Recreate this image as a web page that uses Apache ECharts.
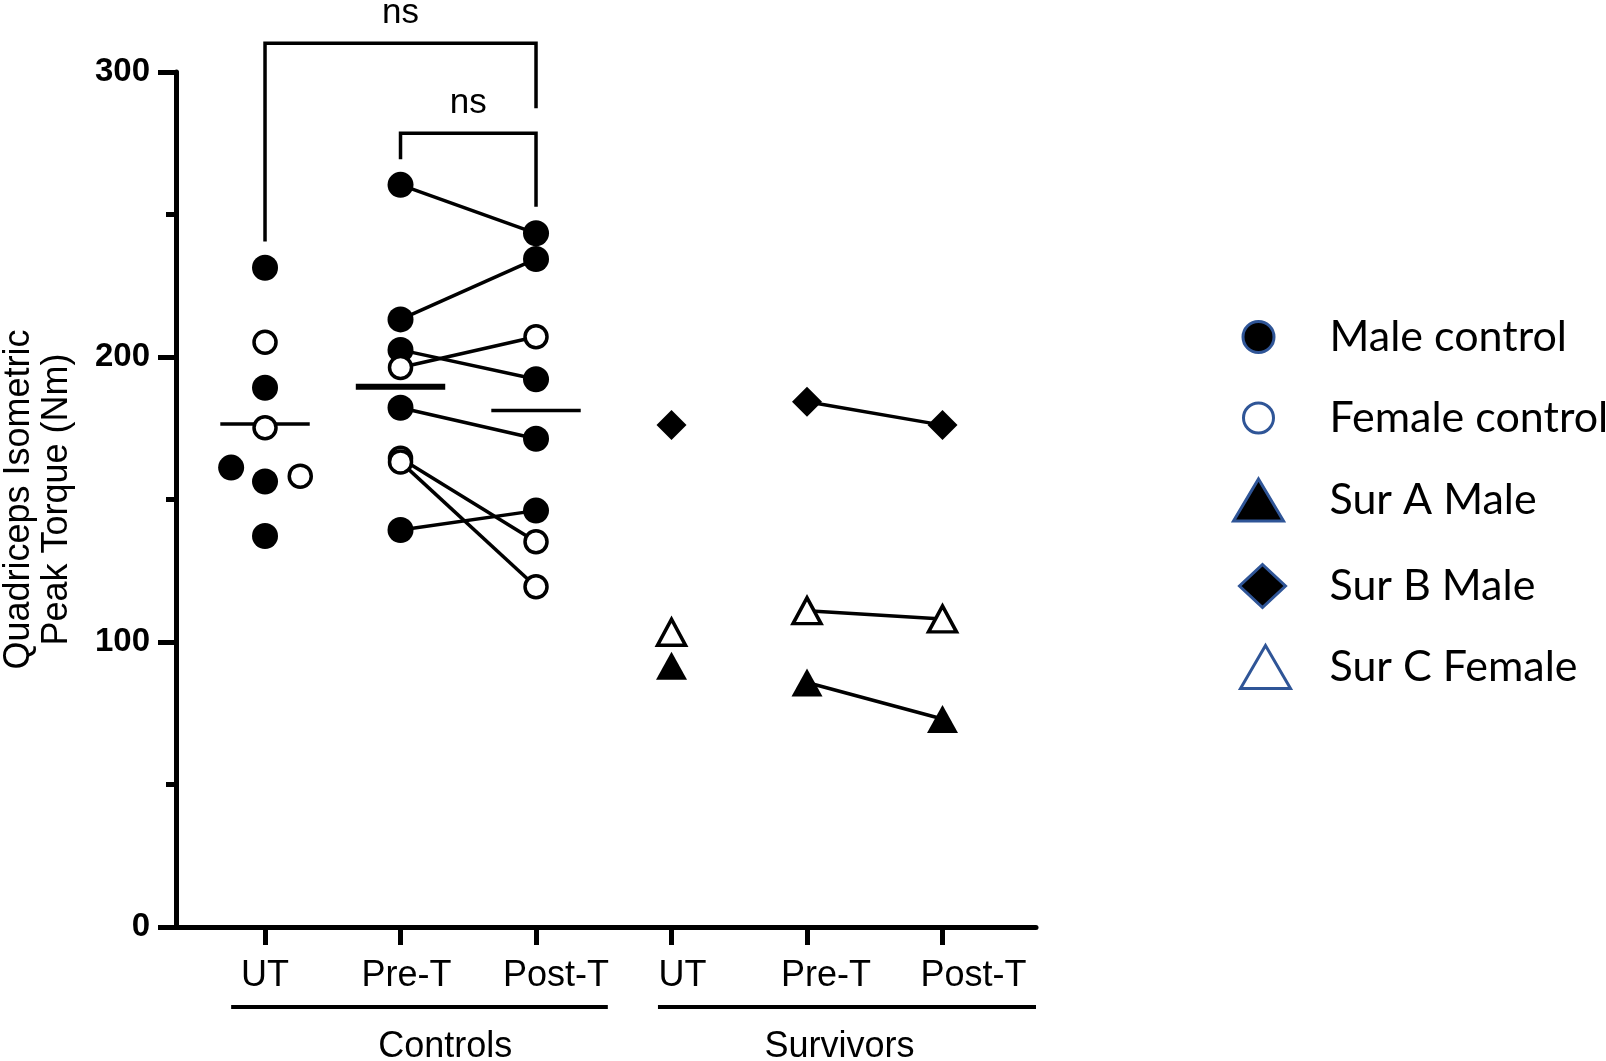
<!DOCTYPE html>
<html>
<head>
<meta charset="utf-8">
<script src="https://cdn.jsdelivr.net/npm/echarts@6/dist/echarts.min.js"></script>
<style>
html,body{margin:0;padding:0;background:#fff;}
#chart{width:1606px;height:1061px;}
</style>
</head>
<body>
<div id="chart"></div>
<script>
// ---------- data ----------
const categories = ['UT', 'Pre-T', 'Post-T', 'UT', 'Pre-T', 'Post-T'];
const groupNames = ['Controls', 'Survivors'];
const yTickLabels = [0, 100, 200, 300];

const maleUT = [231.3, 189.2, 161.2, 156.3, 137.2];
const maleUTJitter = [0, 0, -0.25, 0, 0];
const femaleUT = [205.2, 175.2, 158.2];
const femaleUTJitter = [0, 0, 0.26];

const malePre = [260.4, 213.2, 202.5, 182.2, 139.3];
const malePost = [243.4, 234.4, 192.2, 171.3, 146.1];
const femalePre = [196.3, 164.5, 163.2];
const femalePost = [207.1, 135.2, 119.4];

const controlMeans = [176.5, 189.6, 181.2];

const surA = [91.7, 85.8, 73.0];   // Sur A Male: UT, Pre-T, Post-T
const surB = [176.1, 184.3, 176.1]; // Sur B Male
const surC = [103.4, 111.0, 108.1]; // Sur C Female

// significance brackets
const bracketFrom = [0, 1];
const bracketTo = [2, 2];
const bracketLeftEnd = [240.5, 269.4];
const bracketBar = [310.1, 278.5];
const bracketRightEnd = [287.3, 252.7];
const bracketLabelAt = [320.7, 289.1];
const bracketText = ['ns', 'ns'];

// ---------- layout / style ----------
const BLUE = '#2F5597';
const AXIS_FONT = '"Liberation Sans", Arial, sans-serif';
const LEG_FONT = 'Lato, Calibri, sans-serif';
const catPos = categories.map((_, i) => i);
// category labels sit slightly right of their ticks in the original figure
const labelShift = [0, 0.044, 0.148, 0.081, 0.14, 0.229];
const labelPos = catPos.map((p, i) => p + labelShift[i]);
const LINE_W = 3.5;

const series = [];

// connecting lines (controls)
malePre.forEach((v, i) => series.push({
  type: 'line', silent: true, z: 2, symbol: 'none',
  data: [[1, v], [2, malePost[i]]],
  lineStyle: { color: '#000', width: LINE_W }
}));
femalePre.forEach((v, i) => series.push({
  type: 'line', silent: true, z: 2, symbol: 'none',
  data: [[1, v], [2, femalePost[i]]],
  lineStyle: { color: '#000', width: LINE_W }
}));
// connecting lines (survivors)
[surA, surB, surC].forEach(arr => series.push({
  type: 'line', silent: true, z: 2, symbol: 'none',
  data: [[4, arr[1]], [5, arr[2]]],
  lineStyle: { color: '#000', width: LINE_W }
}));
// mean lines
controlMeans.forEach((m, i) => series.push({
  type: 'line', silent: true, z: 2, symbol: 'none',
  data: [[i - 0.33, m], [i + 0.33, m]],
  lineStyle: { color: '#000', width: i === 1 ? 6 : 3.5 }
}));

// points
series.push({
  name: 'Male control', type: 'scatter', z: 5, symbol: 'circle', symbolSize: 26,
  itemStyle: { color: '#000', opacity: 1 },
  data: maleUT.map((v, i) => [0 + maleUTJitter[i], v])
    .concat(malePre.map(v => [1, v]))
    .concat(malePost.map(v => [2, v]))
});
series.push({
  name: 'Female control', type: 'scatter', z: 6, symbol: 'circle', symbolSize: 22,
  itemStyle: { color: '#fff', borderColor: '#000', borderWidth: 3.5, opacity: 1 },
  data: femaleUT.map((v, i) => [0 + femaleUTJitter[i], v])
    .concat(femalePre.map(v => [1, v]))
    .concat(femalePost.map(v => [2, v]))
});
series.push({
  name: 'Sur A Male', type: 'scatter', z: 5, symbol: 'triangle', symbolSize: [31, 28],
  itemStyle: { color: '#000', opacity: 1 },
  data: surA.map((v, i) => [3 + i, v])
});
series.push({
  name: 'Sur B Male', type: 'scatter', z: 5, symbol: 'diamond', symbolSize: [30, 30],
  itemStyle: { color: '#000', opacity: 1 },
  data: surB.map((v, i) => [3 + i, v])
});
series.push({
  name: 'Sur C Female', type: 'scatter', z: 5, symbol: 'triangle', symbolSize: [28, 26],
  itemStyle: { color: '#fff', borderColor: '#000', borderWidth: 3.5, opacity: 1 },
  data: surC.map((v, i) => [3 + i, v])
});

// brackets
bracketFrom.forEach((f, i) => {
  const t = bracketTo[i];
  series.push({
    type: 'line', silent: true, z: 3, symbol: 'none', clip: false,
    data: [[f, bracketLeftEnd[i]], [f, bracketBar[i]], [t, bracketBar[i]], [t, bracketRightEnd[i]]],
    lineStyle: { color: '#000', width: LINE_W, join: 'miter', cap: 'butt' }
  });
});

// legends
const legendSpec = [
  { name: 'Male control', icon: 'circle', w: 31, h: 31, cx: 1257, cy: 337, fill: '#000' },
  { name: 'Female control', icon: 'circle', w: 30, h: 30, cx: 1257, cy: 418, fill: '#fff' },
  { name: 'Sur A Male', icon: 'triangle', w: 50, h: 42, cx: 1257, cy: 500, fill: '#000' },
  { name: 'Sur B Male', icon: 'diamond', w: 46, h: 43, cx: 1261, cy: 586, fill: '#000' },
  { name: 'Sur C Female', icon: 'triangle', w: 50, h: 43, cx: 1264, cy: 667, fill: '#fff' }
];
const LH = 52;
const TEXT_X = 1328;
const legends = legendSpec.map(s => ({
  show: true, selectedMode: false, orient: 'vertical', padding: 0,
  left: s.cx - s.w / 2, top: s.cy - Math.max(s.h, LH) / 2,
  itemWidth: s.w, itemHeight: s.h,
  data: [{ name: s.name, icon: s.icon,
           itemStyle: { color: s.fill, borderColor: BLUE, borderWidth: 3, opacity: 1 } }],
  textStyle: { fontFamily: LEG_FONT, fontSize: 43, color: '#000', lineHeight: LH,
               padding: [0, 0, 0, TEXT_X - (s.cx + s.w / 2) - 5] }
}));

const option = {
  backgroundColor: '#fff',
  animation: false,
  grid: { left: 176, right: 570, top: 72, bottom: 134, containLabel: false, outerBoundsMode: 'none' },
  xAxis: {
    type: 'value', min: -0.657, max: 5.69,
    axisLine: { show: true, onZero: false, lineStyle: { color: '#000', width: 5 } },
    axisTick: { show: true, customValues: catPos, length: 18, lineStyle: { color: '#000', width: 5 } },
    axisLabel: {
      show: true, customValues: labelPos, formatter: v => categories[Math.round(v)],
      margin: 31, fontFamily: AXIS_FONT, fontSize: 36, color: '#000'
    },
    splitLine: { show: false }
  },
  yAxis: {
    type: 'value', min: 0, max: 300, interval: 100,
    axisLine: { show: true, onZero: false, lineStyle: { color: '#000', width: 5 } },
    axisTick: { show: true, length: 18, lineStyle: { color: '#000', width: 5 } },
    minorTick: { show: true, splitNumber: 2, length: 10, lineStyle: { color: '#000', width: 5 } },
    splitLine: { show: false }, minorSplitLine: { show: false },
    axisLabel: {
      margin: 26, fontFamily: AXIS_FONT, fontSize: 33, fontWeight: 'bold', color: '#000',
      formatter: v => (yTickLabels.indexOf(v) >= 0 ? String(v) : '')
    },
    name: 'Quadriceps Isometric\nPeak Torque (Nm)',
    nameLocation: 'middle', nameRotate: 90, nameGap: 100,
    nameTextStyle: { fontFamily: AXIS_FONT, fontSize: 36, lineHeight: 38, color: '#000' }
  },
  legend: legends,
  series: series
};

const chart = echarts.init(document.getElementById('chart'), null, { renderer: 'canvas' });
chart.setOption(option);

const toPx = (x, y) => chart.convertToPixel({ gridIndex: 0 }, [x, y]);
const graphics = [];

// "ns" labels above the brackets
bracketFrom.forEach((f, i) => {
  const p = toPx((f + bracketTo[i]) / 2, bracketLabelAt[i]);
  graphics.push({
    type: 'text', x: p[0], y: p[1], z: 10,
    style: { text: bracketText[i], fontFamily: AXIS_FONT, fontSize: 35, fill: '#000',
             align: 'center', verticalAlign: 'middle' }
  });
});

// group lines & labels under the x axis, positioned through the axis scale
const groupStart = [-0.25, 2.9];
const groupEnd = [2.53, 5.69];
const groupLabelAt = [1.33, 4.24];
const axisY = toPx(0, 0)[1];
groupNames.forEach((g, i) => {
  const x1 = toPx(groupStart[i], 0)[0];
  const x2 = toPx(groupEnd[i], 0)[0];
  const xl = toPx(groupLabelAt[i], 0)[0];
  graphics.push({
    type: 'line', shape: { x1: x1, y1: axisY + 80, x2: x2, y2: axisY + 80 },
    style: { stroke: '#000', lineWidth: 4 }
  });
  graphics.push({
    type: 'text', x: xl, y: axisY + 120,
    style: { text: g, fontFamily: AXIS_FONT, fontSize: 36, fill: '#000', align: 'center', verticalAlign: 'middle' }
  });
});
chart.setOption({ graphic: graphics });
</script>
</body>
</html>
